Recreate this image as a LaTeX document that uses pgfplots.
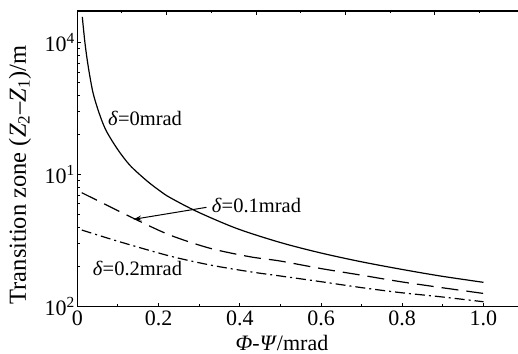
\documentclass[border=0pt]{standalone}
\usepackage{fontspec}
\setmainfont{Liberation Serif}
\usepackage{pgfplots}
\pgfplotsset{compat=1.18}
\usetikzlibrary{calc,arrows.meta}
\newcommand{\fs}{\fontsize{22bp}{25bp}\selectfont}
\newcommand{\fa}{\fontsize{20.5bp}{24bp}\selectfont}
\newcommand{\fl}{\fontsize{24.5bp}{28bp}\selectfont}
\begin{document}
\begin{tikzpicture}
\begin{axis}[name=ax, scale only axis, width=440.7bp, height=295.7bp,
  xmin=0, xmax=1.085, ymode=log, ymin=100, ymax=17400,
  axis x line*=bottom, axis y line*=left,
  axis line style={-, line width=1.2bp},
  xtick={0,0.2,0.4,0.6,0.8,1.0}, xticklabels={0,0.2,0.4,0.6,0.8,1.0},
  minor xtick={0.1,0.3,0.5,0.7,0.9},
  ytick={100,1000,10000},
  yticklabels={10\textsuperscript{2},10\textsuperscript{1},10\textsuperscript{4}},
  minor ytick={200,300,400,500,600,700,800,900,2000,3000,4000,5000,6000,7000,8000,9000},
  tick align=inside, major tick length=4bp, minor tick length=2.5bp,
  tick style={line width=1bp, black},
  /pgf/number format/assume math mode=true,
  ticklabel style={font=\fs},
  xticklabel style={yshift=-1bp},
  yticklabel style={xshift=1bp},
  xlabel={\textit{Φ}-\textit{Ψ}/mrad},
  ylabel={Transition zone (\textit{Z}\textsubscript{2}–\textit{Z}\textsubscript{1})/m},
  xlabel style={font=\fs, at={(axis description cs:0.4645,-0.123)}, anchor=center},
  ylabel style={font=\fl, at={(axis description cs:-0.13,0.445)}, anchor=center, rotate=0},
  clip=false
]
\addplot[black, line width=1.2bp, smooth] coordinates {
(0.0123,15700) (0.019,9890) (0.027,6580) (0.039,4140) (0.056,2800) (0.072,2130)
(0.100,1545) (0.130,1175) (0.171,900) (0.204,752) (0.228,672) (0.294,527)
(0.392,392) (0.499,307) (0.598,256) (0.696,220) (0.794,193) (0.893,171) (1.0,153)};
\addplot[black, line width=1.2bp, dash pattern=on 17bp off 8bp, smooth] coordinates {
(0.011,731) (0.138,468) (0.228,349) (0.327,277) (0.425,239) (0.499,222)
(0.598,195) (0.696,174) (0.794,155) (0.893,140) (1.0,126)};
\addplot[black, line width=1.2bp, dash pattern=on 10bp off 4bp on 2bp off 4bp, smooth] coordinates {
(0.011,381) (0.105,310) (0.228,242) (0.327,207) (0.425,184) (0.499,171)
(0.598,155) (0.696,140) (0.794,128) (0.893,119) (1.0,109)};
\node[anchor=west, font=\fa, inner sep=0pt] at (axis cs:0.0756,2690) {\textit{δ}=0mrad};
\node[anchor=west, font=\fa, inner sep=0pt] at (axis cs:0.331,580) {\textit{δ}=0.1mrad};
\node[anchor=west, font=\fa, inner sep=0pt] at (axis cs:0.038,195) {\textit{δ}=0.2mrad};
\draw[-{Stealth[length=8bp,width=5bp]}, line width=1bp] (axis cs:0.318,566) -- (axis cs:0.138,459);
\end{axis}
\begin{axis}[scale only axis, width=440.7bp, height=295.7bp,
  xmin=0, xmax=9.86, ymin=0, ymax=1,
  axis x line*=top, axis y line=none,
  axis line style={-, line width=1.2bp},
  xtick={2,4,6,8}, minor xtick={1,3,5,7,9}, xticklabels={},
  tick align=inside, major tick length=4bp, minor tick length=2.5bp,
  tick style={line width=1bp, black}]
\end{axis}
\pgfresetboundingbox
\path[use as bounding box] ($(ax.south west)+(-77.3bp,-47.3bp)$) rectangle ($(ax.north east)+(0,11bp)$);
\end{tikzpicture}
\end{document}
